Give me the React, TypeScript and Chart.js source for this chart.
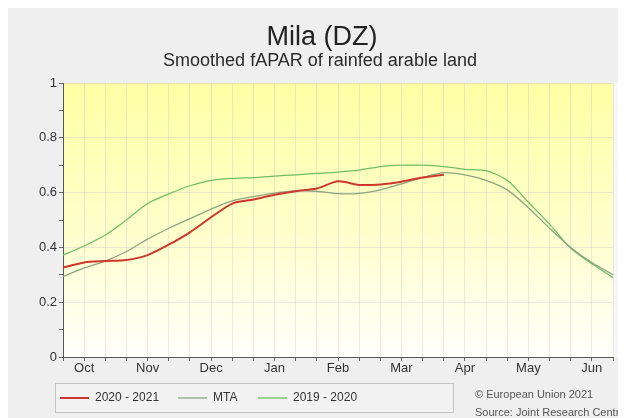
import React, { useEffect, useRef } from "react";
import { Chart, registerables } from "chart.js";

Chart.register(...registerables);

const TITLE = "Mila (DZ)";
const SUBTITLE = "Smoothed fAPAR of rainfed arable land";
const MONTHS = ["Oct", "Nov", "Dec", "Jan", "Feb", "Mar", "Apr", "May", "Jun"];

const S2021 = [0.327, 0.345, 0.35, 0.354, 0.372, 0.41, 0.455, 0.51, 0.56, 0.575, 0.592, 0.605, 0.615, 0.641, 0.628, 0.63, 0.64, 0.655, 0.665];
const MTA = [0.293, 0.325, 0.35, 0.385, 0.43, 0.47, 0.505, 0.54, 0.57, 0.585, 0.598, 0.606, 0.605, 0.596, 0.597, 0.61, 0.632, 0.655, 0.673, 0.665, 0.645, 0.61, 0.545, 0.47, 0.4, 0.345, 0.3];
const S2020 = [0.372, 0.405, 0.445, 0.5, 0.56, 0.595, 0.625, 0.645, 0.652, 0.655, 0.66, 0.665, 0.67, 0.675, 0.682, 0.695, 0.7, 0.7, 0.695, 0.685, 0.68, 0.645, 0.565, 0.485, 0.397, 0.34, 0.29];

const SERIES_NAMES = ["2020 - 2021", "MTA", "2019 - 2020"];
const COPYRIGHT = "© European Union 2021";
const SOURCE = "Source: Joint Research Centre";

const FONT = "'Liberation Sans', Arial, sans-serif";

export default function App() {
  const ref = useRef<HTMLCanvasElement | null>(null);

  useEffect(() => {
    const canvas = ref.current;
    if (!canvas) return;
    const labels = MONTHS.flatMap((m) => ["", m, ""]);

    const bgPlugin = {
      id: "bgPlugin",
      beforeDraw(chart: any) {
        const { ctx, chartArea: a, width, height } = chart;
        ctx.save();
        ctx.fillStyle = "#efefef";
        ctx.fillRect(0, 0, width, height);
        ctx.fillStyle = "#f7f7f7";
        ctx.fillRect(a.right, a.top, 6, a.bottom - a.top);
        const g = ctx.createLinearGradient(0, a.top, 0, a.bottom);
        g.addColorStop(0, "rgb(255,255,165)");
        g.addColorStop(0.55, "rgb(255,255,205)");
        g.addColorStop(1, "rgb(255,255,252)");
        ctx.fillStyle = g;
        ctx.fillRect(a.left, a.top, a.right - a.left, a.bottom - a.top);
        ctx.restore();
      },
      afterDraw(chart: any) {
        const { ctx } = chart;
        ctx.save();
        ctx.textAlign = "center";
        ctx.textBaseline = "middle";
        ctx.fillStyle = "#222";
        ctx.font = `27px ${FONT}`;
        ctx.fillText(TITLE, 314, 30);
        ctx.fillStyle = "#2a2a2a";
        ctx.font = `18px ${FONT}`;
        ctx.fillText(SUBTITLE, 312, 53);

        // legend box
        const bx = 47, by = 375, bw = 398, bh = 29;
        ctx.fillStyle = "#f2f2f2";
        ctx.fillRect(bx, by, bw, bh);
        ctx.strokeStyle = "#c4c4c4";
        ctx.lineWidth = 1;
        ctx.strokeRect(bx + 0.5, by + 0.5, bw, bh);
        const ly = by + 15;
        const starts = [52, 170, 250];
        ctx.textAlign = "left";
        ctx.font = `12px ${FONT}`;
        chart.data.datasets.forEach((ds: any, i: number) => {
          const x0 = starts[i];
          ctx.strokeStyle = ds.borderColor;
          ctx.lineWidth = ds.borderWidth;
          ctx.beginPath();
          ctx.moveTo(x0, ly);
          ctx.lineTo(x0 + 29, ly);
          ctx.stroke();
          ctx.fillStyle = "#333";
          ctx.fillText(ds.label, x0 + 35, ly);
        });

        ctx.fillStyle = "#555";
        ctx.font = `11px ${FONT}`;
        ctx.fillText(COPYRIGHT, 467, 387);
        ctx.fillText(SOURCE, 467, 405);
        ctx.restore();
      },
    };

    const chart = new Chart(canvas, {
      type: "line",
      data: {
        labels,
        datasets: [
          { label: SERIES_NAMES[0], data: S2021, borderColor: "rgb(205,55,45)", borderWidth: 2, pointRadius: 0, tension: 0.25, fill: false },
          { label: SERIES_NAMES[1], data: MTA, borderColor: "rgb(140,165,130)", borderWidth: 1.3, pointRadius: 0, tension: 0.25, fill: false },
          { label: SERIES_NAMES[2], data: S2020, borderColor: "rgb(110,190,100)", borderWidth: 1.3, pointRadius: 0, tension: 0.25, fill: false },
        ],
      },
      options: {
        animation: false,
        responsive: false,
        devicePixelRatio: 1,
        layout: { padding: { left: 8, top: 75, right: 13, bottom: 0 } },
        plugins: { legend: { display: false }, title: { display: false }, tooltip: { enabled: false } },
        scales: {
          x: {
            type: "category",
            offset: false,
            afterFit(scale: any) { scale.height = 61; },
            grid: { color: "rgba(190,190,190,0.3)", tickLength: 4, tickColor: "#666", drawOnChartArea: true },
            border: { display: true, color: "#555", width: 1 },
            ticks: { autoSkip: false, maxRotation: 0, padding: 0, color: "#333", font: { family: FONT, size: 13 } },
          },
          y: {
            min: 0,
            max: 1,
            afterFit(scale: any) { scale.width = 47; },
            afterBuildTicks(scale: any) {
              scale.ticks = Array.from({ length: 11 }, (_, i) => ({ value: i / 10 }));
            },
            grid: {
              color: (c: any) => (Math.round(c.tick.value * 10) % 2 === 0 ? "rgba(190,190,190,0.35)" : "rgba(0,0,0,0)"),
              tickColor: "#666",
              tickLength: 4,
            },
            border: { display: true, color: "#555", width: 1 },
            ticks: {
              padding: 2,
              color: "#333",
              font: { family: FONT, size: 13 },
              callback: (v: any) => {
                const r = Math.round(Number(v) * 10);
                if (r % 2 !== 0) return "";
                if (r === 0) return "0";
                if (r === 10) return "1";
                return (r / 10).toFixed(1);
              },
            },
          },
        },
      },
      plugins: [bgPlugin],
    });
    return () => chart.destroy();
  }, []);

  return <canvas ref={ref} width={618} height={410} style={{ display: "block" }} />;
}
